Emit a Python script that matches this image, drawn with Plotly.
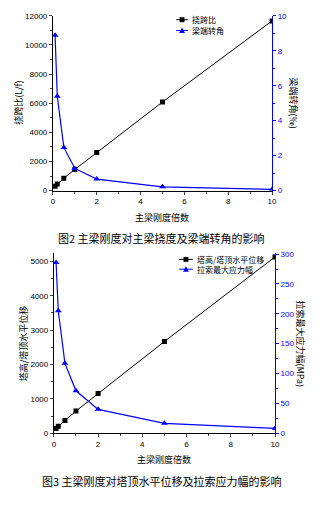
import plotly.graph_objects as go

W, H = 326, 506

# Stiffness multiples of the main girder
stiffness = [0.1, 0.2, 0.5, 1, 2, 5, 10]

# Fig. 2 series
span_deflection_ratio = [300, 450, 850, 1450, 2620, 6080, 11650]
girder_end_rotation = [8.88, 5.40, 2.47, 1.27, 0.66, 0.22, 0.07]

# Fig. 3 series
tower_height_disp_ratio = [135, 200, 370, 645, 1155, 2670, 5130]
cable_stress_range = [286, 205, 117, 71, 40, 16.5, 8.2]

x_ticks = [0, 2, 4, 6, 8, 10]

NUM_FONT = "Liberation Sans, Arial, sans-serif"
CJK_FONT = "Noto Sans CJK SC, sans-serif"
BLUE = "#0000ff"


def px_x(p):
    return p / W


def px_y(p):
    return 1 - p / H


fig = go.Figure()

series = [
    (span_deflection_ratio, "挠跨比", "x", "y", "black", "square"),
    (girder_end_rotation, "梁端转角", "x", "y2", BLUE, "triangle-up"),
    (tower_height_disp_ratio, "塔高/塔顶水平位移", "x2", "y3", "black", "square"),
    (cable_stress_range, "拉索最大应力幅", "x2", "y4", BLUE, "triangle-up"),
]
for values, name, xa, ya, color, symbol in series:
    fig.add_trace(go.Scatter(
        x=stiffness, y=values, name=name, mode="lines+markers",
        xaxis=xa, yaxis=ya, showlegend=False,
        line=dict(color=color, width=1 if color == "black" else 1.2),
        marker=dict(symbol=symbol, size=5 if symbol == "square" else 6, color=color),
    ))

tick_font = dict(family=NUM_FONT, size=8, color="black")
blue_tick_font = dict(family=NUM_FONT, size=8, color=BLUE)
title_font = dict(family=CJK_FONT, size=9, color="black")


def xaxis(domain, anchor):
    return dict(
        domain=domain, anchor=anchor, range=[0, 10],
        tickvals=x_ticks, ticks="outside", ticklen=3, tickwidth=1,
        minor=dict(dtick=1, ticks="outside", ticklen=2, tickwidth=1, showgrid=False),
        showline=True, linecolor="black", linewidth=1,
        showgrid=False, zeroline=False, tickfont=tick_font,
    )


def left_axis(domain, anchor, rng, dtick):
    return dict(
        domain=domain, anchor=anchor, range=rng, dtick=dtick, tickformat="d",
        ticks="outside", ticklen=3, tickwidth=1,
        minor=dict(dtick=dtick / 2, ticks="outside", ticklen=2, tickwidth=1, showgrid=False),
        showline=True, linecolor="black", linewidth=1,
        showgrid=False, zeroline=False, tickfont=tick_font,
    )


def right_axis(overlay, anchor, rng, dtick):
    return dict(
        overlaying=overlay, anchor=anchor, side="right", range=rng, dtick=dtick,
        tickformat="d",
        ticks="outside", ticklen=3, tickwidth=1, tickcolor=BLUE,
        minor=dict(dtick=dtick / 2, ticks="outside", ticklen=2, tickwidth=1,
                   tickcolor=BLUE, showgrid=False),
        showline=True, linecolor=BLUE, linewidth=1,
        showgrid=False, zeroline=False, tickfont=blue_tick_font,
    )


d1x = [px_x(52), px_x(276)]
d1y = [px_y(190), px_y(12)]
d2x = [px_x(53), px_x(279)]
d2y = [px_y(437), px_y(254)]


def text(t, x, y, size=9, angle=0, anchor="center"):
    return dict(text=t, x=px_x(x), y=px_y(y), xref="paper", yref="paper",
                showarrow=False, textangle=angle, xanchor=anchor, yanchor="middle",
                font=dict(family=CJK_FONT, size=size, color="black"))


annotations = [
    # axis titles
    text("主梁刚度倍数", 164, 217),
    text("挠跨比(L/f)", 17, 101, angle=-90),
    text("梁端转角(‰)", 298, 101, angle=90),
    text("主梁刚度倍数", 166, 464),
    text("塔高/塔顶水平位移", 22, 346, angle=-90),
    text("拉索最大应力幅(MPa)", 305, 346, angle=90),
    # captions
    text("图2 主梁刚度对主梁挠度及梁端转角的影响", 163, 238, size=11),
    text("图3 主梁刚度对塔顶水平位移及拉索应力幅的影响", 163, 486, size=11),
]

# Legend samples: short line with a centred marker, followed by the label
shapes = []
legend_items = [
    ("挠跨比", 178, 190, 16, "black", "square"),
    ("梁端转角", 178, 190, 27, BLUE, "triangle"),
    ("塔高/塔顶水平位移", 181, 195, 260, "black", "square"),
    ("拉索最大应力幅", 181, 195, 270, BLUE, "triangle"),
]
for label, x0, x1, y, color, sym in legend_items:
    shapes.append(dict(type="line", xref="paper", yref="paper",
                       x0=px_x(x0), x1=px_x(x1), y0=px_y(y), y1=px_y(y),
                       line=dict(color=color, width=1)))
    cx = (x0 + x1) / 2
    if sym == "square":
        shapes.append(dict(type="rect", xref="paper", yref="paper",
                           x0=px_x(cx - 2.5), x1=px_x(cx + 2.5),
                           y0=px_y(y + 2.5), y1=px_y(y - 2.5),
                           fillcolor=color, line=dict(width=0)))
    else:
        path = (f"M {px_x(cx - 3)} {px_y(y + 2.5)} L {px_x(cx + 3)} {px_y(y + 2.5)} "
                f"L {px_x(cx)} {px_y(y - 3)} Z")
        shapes.append(dict(type="path", xref="paper", yref="paper", path=path,
                           fillcolor=color, line=dict(width=0)))
    annotations.append(text(label, x1 + 2, y, size=8, anchor="left"))

fig.update_layout(
    width=W, height=H,
    margin=dict(l=0, r=0, t=0, b=0),
    paper_bgcolor="white", plot_bgcolor="white",
    xaxis=xaxis(d1x, "y"),
    yaxis=left_axis(d1y, "x", [0, 12000], 2000),
    yaxis2=right_axis("y", "x", [0, 10], 2),
    xaxis2=xaxis(d2x, "y3"),
    yaxis3=left_axis(d2y, "x2", [0, 5230], 1000),
    yaxis4=right_axis("y3", "x2", [0, 301], 50),
    annotations=annotations,
    shapes=shapes,
)

fig.write_html("out.html")
